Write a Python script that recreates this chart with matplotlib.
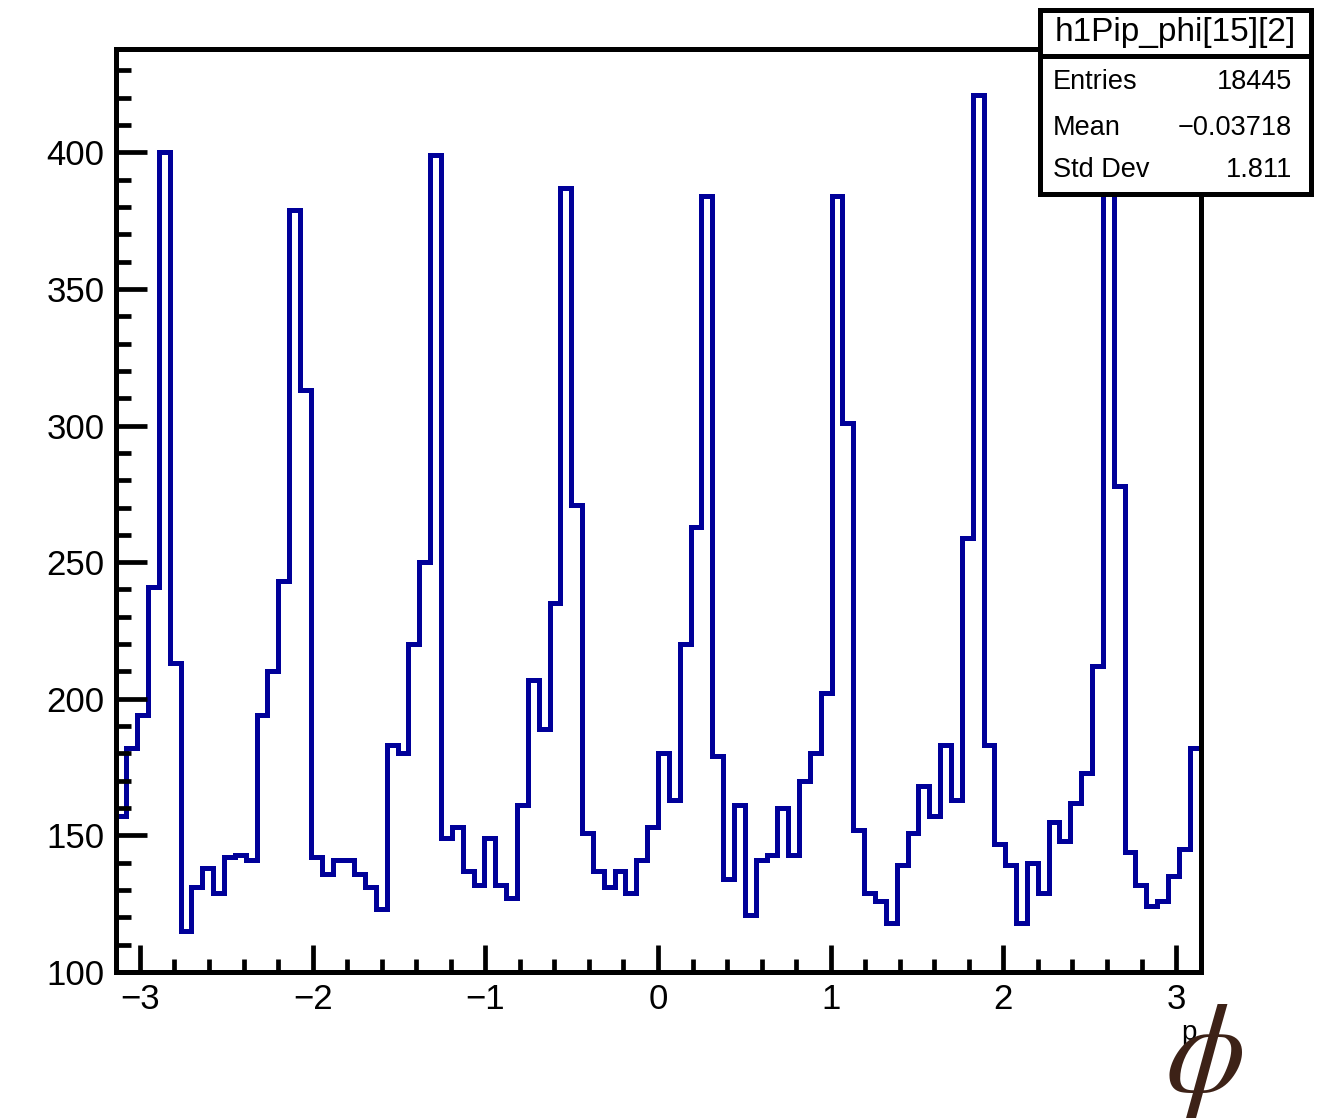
import numpy as np
import matplotlib
matplotlib.use("Agg")
import matplotlib.pyplot as plt
from matplotlib.ticker import MultipleLocator

plt.rcParams['font.family'] = ['Liberation Sans', 'DejaVu Sans']
plt.rcParams['mathtext.fontset'] = 'stix'

# histogram contents (100 bins over -pi..pi)
counts = [157, 182, 194, 241, 400, 213, 115, 131, 138, 129,
          142, 143, 141, 194, 210, 243, 379, 313, 142, 136,
          141, 141, 136, 131, 123, 183, 180, 220, 250, 399,
          149, 153, 137, 132, 149, 132, 127, 161, 207, 189,
          235, 387, 271, 151, 137, 131, 137, 129, 141, 153,
          180, 163, 220, 263, 384, 179, 134, 161, 121, 141,
          143, 160, 143, 170, 180, 202, 384, 301, 152, 129,
          126, 118, 139, 151, 168, 157, 183, 163, 259, 421,
          183, 147, 139, 118, 140, 129, 155, 148, 162, 173,
          212, 410, 278, 144, 132, 124, 126, 135, 145, 182]
x_min, x_max = -np.pi, np.pi
y_min, y_max = 100, 438

hist_name = 'h1Pip_phi[15][2]'
stat_names = ['Entries', 'Mean', 'Std Dev']
stat_values = ['18445', '\u22120.03718', '1.811']

W, H = 1327, 1118
fig = plt.figure(figsize=(W / 100, H / 100), dpi=100)
ax = fig.add_axes([115.5 / W, 1 - 972 / H, (1200.5 - 115.5) / W, (972 - 48.5) / H])

edges = np.linspace(x_min, x_max, len(counts) + 1)
ax.stairs(counts, edges, baseline=None, color='#000099', linewidth=3.6)
ax.set_xlim(x_min, x_max)
ax.set_ylim(y_min, y_max)

for s in ax.spines.values():
    s.set_linewidth(3.6)
    s.set_zorder(5)

ax.xaxis.set_major_locator(MultipleLocator(1))
ax.xaxis.set_minor_locator(MultipleLocator(0.2))
ax.yaxis.set_major_locator(MultipleLocator(50))
ax.yaxis.set_minor_locator(MultipleLocator(10))
ax.tick_params(axis='x', which='major', direction='in', length=19.5, width=3.4,
               labelsize=25, pad=8, top=False)
ax.tick_params(axis='x', which='minor', direction='in', length=9.5, width=3.4, top=False)
ax.tick_params(axis='y', which='major', direction='in', length=22, width=3.4,
               labelsize=25, pad=8, right=False)
ax.tick_params(axis='y', which='minor', direction='in', length=11, width=3.4, right=False)

# axis title
fig.text(1189 / W, 1 - 1033 / H, 'p', fontsize=20, ha='center', va='center')
fig.text(1204 / W, 1 - 1060 / H, r'$\phi$', fontsize=92, color='#3d2217',
         ha='center', va='center')

# stats box
bl, br, bt, bb = 1040, 1311, 10, 194
box = fig.add_axes([bl / W, 1 - bb / H, (br - bl) / W, (bb - bt) / H])
box.set_xlim(0, br - bl)
box.set_ylim(bb - bt, 0)
box.set_xticks([])
box.set_yticks([])
box.set_facecolor('white')
for s in box.spines.values():
    s.set_linewidth(3.6)
box.axhline(46, color='black', linewidth=3.6)
box.text((br - bl) / 2, 23, hist_name, fontsize=24, ha='center', va='center')
for i, (n, v) in enumerate(zip(stat_names, stat_values)):
    yy = [72, 118, 160][i]
    box.text(13, yy, n, fontsize=19.5, ha='left', va='center')
    box.text(252, yy, v, fontsize=19.5, ha='right', va='center')

fig.savefig('out.png', dpi=100)
